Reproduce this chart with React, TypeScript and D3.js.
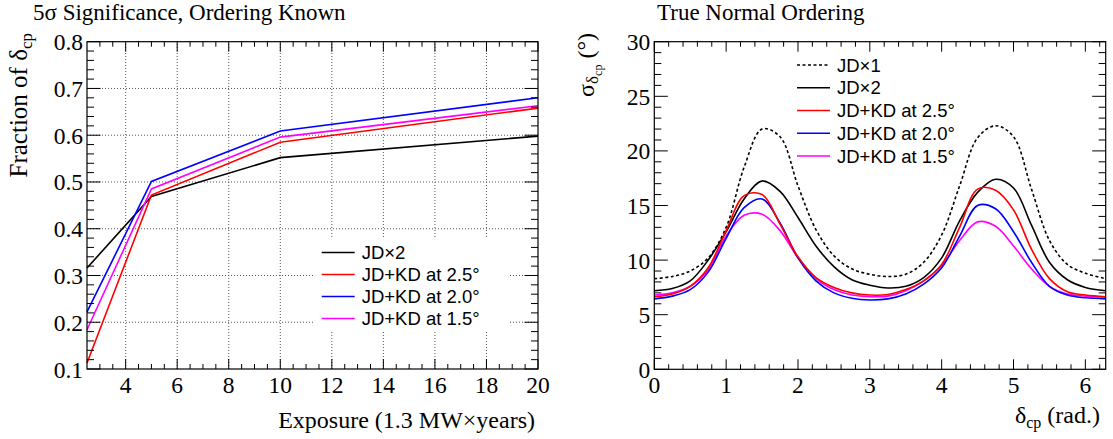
import React, { useRef, useEffect } from 'react';
import * as d3 from 'd3';

// left panel: fraction of delta_cp vs exposure
const exposure = [2.5, 5, 10, 20];
const fracJDx2 = [0.316, 0.469, 0.552, 0.598];
const fracKD25 = [0.113, 0.472, 0.585, 0.658];
const fracKD20 = [0.222, 0.501, 0.609, 0.68];
const fracKD15 = [0.184, 0.485, 0.596, 0.663];

// right panel: resolution vs delta_cp
const deltaCP = [0, 0.25, 0.5, 0.75, 1.0, 1.25, 1.5, 1.75, 2.0, 2.25, 2.5, 2.75, 3.0, 3.25, 3.5, 3.75, 4.0, 4.25, 4.5, 4.75, 5.0, 5.25, 5.5, 5.75, 6.0, 6.283];
const sigJDx1 = [8.3, 8.5, 9.0, 10.2, 13.0, 18.5, 22.0, 21.3, 16.8, 12.8, 10.4, 9.2, 8.7, 8.5, 8.7, 9.8, 12.3, 16.8, 21.2, 22.3, 21.3, 16.5, 11.8, 9.6, 8.8, 8.3];
const sigJDx2 = [7.2, 7.4, 8.1, 10.0, 12.6, 15.6, 17.25, 16.3, 13.9, 11.3, 9.4, 8.2, 7.7, 7.45, 7.6, 8.4, 10.2, 13.6, 16.2, 17.4, 16.6, 13.2, 9.8, 8.2, 7.5, 7.2];
const sigKD25 = [6.65, 6.9, 7.6, 9.3, 12.7, 15.9, 16.0, 13.3, 10.3, 8.4, 7.5, 7.0, 6.8, 6.85, 7.3, 8.1, 9.6, 13.0, 16.5, 16.4, 14.6, 11.0, 8.3, 7.1, 6.8, 6.65];
const sigKD20 = [6.45, 6.7, 7.3, 8.9, 12.0, 14.8, 15.6, 13.4, 10.2, 8.1, 7.0, 6.5, 6.35, 6.45, 6.9, 7.8, 9.3, 12.2, 15.0, 14.7, 12.6, 9.8, 7.6, 6.8, 6.55, 6.45];
const sigKD15 = [6.8, 7.0, 7.6, 9.1, 12.2, 14.1, 14.2, 12.7, 10.2, 8.3, 7.3, 6.8, 6.65, 6.7, 7.2, 8.1, 9.5, 11.8, 13.5, 13.1, 11.3, 9.2, 7.6, 6.9, 6.7, 6.6];

const leftXTicks = [4, 6, 8, 10, 12, 14, 16, 18, 20];
const leftYTicks = [0.1, 0.2, 0.3, 0.4, 0.5, 0.6, 0.7, 0.8];
const rightXTicks = [0, 1, 2, 3, 4, 5, 6];
const rightYTicks = [0, 5, 10, 15, 20, 25, 30];

const serif = "'Liberation Serif', 'DejaVu Serif', serif";
const sans = "'Liberation Sans', Arial, sans-serif";

type Sel = d3.Selection<SVGGElement, unknown, null, undefined>;

function drawFrame(g: Sel, x: d3.ScaleLinear<number, number>, y: d3.ScaleLinear<number, number>,
  xMajor: number[], xMinor: number[], yMajor: number[], yMinor: number[], fmtY: (v: number) => string) {
  const [x0, x1] = x.range();
  const [y0, y1] = y.range(); // y0 bottom, y1 top
  const t = g.append("g").attr("stroke", "#000").attr("stroke-width", 1);
  const xt = (v: number, len: number) => {
    t.append("line").attr("x1", x(v)).attr("x2", x(v)).attr("y1", y0).attr("y2", y0 - len);
    t.append("line").attr("x1", x(v)).attr("x2", x(v)).attr("y1", y1).attr("y2", y1 + len);
  };
  const yt = (v: number, len: number) => {
    t.append("line").attr("y1", y(v)).attr("y2", y(v)).attr("x1", x0).attr("x2", x0 + len);
    t.append("line").attr("y1", y(v)).attr("y2", y(v)).attr("x1", x1).attr("x2", x1 - len);
  };
  xMajor.forEach(v => xt(v, 10));
  xMinor.forEach(v => xt(v, 5));
  yMajor.forEach(v => yt(v, 13.5));
  yMinor.forEach(v => yt(v, 7));
  g.append("rect").attr("x", x0).attr("y", y1).attr("width", x1 - x0).attr("height", y0 - y1)
    .attr("fill", "none").attr("stroke", "#000").attr("stroke-width", 1.2);

  g.append("g").selectAll("text").data(xMajor).join("text")
    .attr("x", d => x(d)).attr("y", y0 + 24)
    .attr("text-anchor", "middle").attr("font-family", serif).attr("font-size", 23.5)
    .text(d => String(d));
  g.append("g").selectAll("text").data(yMajor).join("text")
    .attr("x", x0 - 4).attr("y", d => y(d) + 8.5)
    .attr("text-anchor", "end").attr("font-family", serif).attr("font-size", 23.5)
    .text(d => fmtY(d));
}

function minorTicks(lo: number, hi: number, step: number, major: number[]) {
  return d3.range(lo, hi + step / 2, step)
    .map(v => +v.toFixed(4))
    .filter(v => v <= hi && !major.some(m => Math.abs(m - v) < 1e-6));
}

function drawLegend(g: Sel, entries: { label: string; color: string; dash?: string }[],
  lx: number, ly: number, dy: number) {
  entries.forEach((e, i) => {
    const yy = ly + i * dy;
    g.append("line").attr("x1", lx).attr("x2", lx + 33).attr("y1", yy).attr("y2", yy)
      .attr("stroke", e.color).attr("stroke-width", 1.6)
      .attr("stroke-dasharray", e.dash || null);
    g.append("text").attr("x", lx + 40).attr("y", yy + 6.5)
      .attr("font-family", sans).attr("font-size", 18.5).attr("fill", "#000")
      .text(e.label);
  });
}

export default function App() {
  const svgRef = useRef<SVGSVGElement>(null);

  useEffect(() => {
    const svg = d3.select(svgRef.current);
    svg.selectAll("*").remove();

    // ---------- left panel ----------
    const xL = d3.scaleLinear().domain([2.5, 20]).range([87, 538]);
    const yL = d3.scaleLinear().domain([0.1, 0.8]).range([369, 41.7]);
    const gl = svg.append("g") as unknown as Sel;

    const grid = gl.append("g").attr("stroke", "#555").attr("stroke-width", 1).attr("stroke-dasharray", "1,2");
    leftXTicks.filter(v => v < 20).forEach(v => {
      grid.append("line").attr("x1", xL(v)).attr("x2", xL(v)).attr("y1", yL(0.1)).attr("y2", yL(0.8));
    });
    leftYTicks.filter(v => v > 0.1 && v < 0.8).forEach(v => {
      grid.append("line").attr("y1", yL(v)).attr("y2", yL(v)).attr("x1", xL(2.5)).attr("x2", xL(20));
    });

    const lineL = d3.line<number>().x((_, i) => xL(exposure[i])).y(d => yL(d));
    const leftSeries = [
      { v: fracJDx2, c: "#000000" },
      { v: fracKD25, c: "#ff0000" },
      { v: fracKD15, c: "#ff00ff" },
      { v: fracKD20, c: "#0000ff" },
    ];
    leftSeries.forEach(s => {
      gl.append("path").attr("d", lineL(s.v)).attr("fill", "none")
        .attr("stroke", s.c).attr("stroke-width", 1.6);
    });

    drawFrame(gl, xL, yL, leftXTicks, minorTicks(3, 20, 0.5, leftXTicks),
      leftYTicks, minorTicks(0.1, 0.8, 0.02, leftYTicks), d => d.toFixed(1));

    gl.append("rect").attr("x", 313).attr("y", 238).attr("width", 197).attr("height", 94).attr("fill", "#fff");
    drawLegend(gl, [
      { label: "JD×2", color: "#000000" },
      { label: "JD+KD at 2.5°", color: "#ff0000" },
      { label: "JD+KD at 2.0°", color: "#0000ff" },
      { label: "JD+KD at 1.5°", color: "#ff00ff" },
    ], 321.7, 252.5, 22);

    gl.append("text").attr("x", 33).attr("y", 20).attr("font-family", serif).attr("font-size", 23)
      .text("5σ Significance, Ordering Known");
    gl.append("text").attr("x", 535).attr("y", 428).attr("text-anchor", "end")
      .attr("font-family", serif).attr("font-size", 24).text("Exposure (1.3 MW×years)");
    const yl = gl.append("text").attr("transform", "translate(27,33) rotate(-90)").attr("text-anchor", "end")
      .attr("font-family", serif).attr("font-size", 25);
    yl.append("tspan").text("Fraction of δ");
    yl.append("tspan").attr("dy", 5).attr("font-size", 17).text("cp");

    // ---------- right panel ----------
    const xR = d3.scaleLinear().domain([0, 2 * Math.PI]).range([654.3, 1105.7]);
    const yR = d3.scaleLinear().domain([0, 30]).range([369.3, 41.7]);
    const gr = svg.append("g") as unknown as Sel;

    const lineR = d3.line<number>().x((_, i) => xR(deltaCP[i])).y(d => yR(d)).curve(d3.curveCatmullRom.alpha(0.5));
    const rightSeries = [
      { v: sigJDx1, c: "#000000", dash: "3,2.5" },
      { v: sigJDx2, c: "#000000" },
      { v: sigKD15, c: "#ff00ff" },
      { v: sigKD20, c: "#0000ff" },
      { v: sigKD25, c: "#ff0000" },
    ];
    rightSeries.forEach(s => {
      gr.append("path").attr("d", lineR(s.v)).attr("fill", "none")
        .attr("stroke", s.c).attr("stroke-width", 1.6)
        .attr("stroke-dasharray", s.dash || null);
    });

    drawFrame(gr, xR, yR, rightXTicks, minorTicks(0.2, 6.2, 0.2, rightXTicks),
      rightYTicks, minorTicks(1, 30, 1, rightYTicks), d => String(d));

    drawLegend(gr, [
      { label: "JD×1", color: "#000000", dash: "3,2.5" },
      { label: "JD×2", color: "#000000" },
      { label: "JD+KD at 2.5°", color: "#ff0000" },
      { label: "JD+KD at 2.0°", color: "#0000ff" },
      { label: "JD+KD at 1.5°", color: "#ff00ff" },
    ], 797, 65, 22.75);

    gr.append("text").attr("x", 657).attr("y", 20).attr("font-family", serif).attr("font-size", 23)
      .text("True Normal Ordering");
    const xr = gr.append("text").attr("x", 1100).attr("y", 423).attr("text-anchor", "end")
      .attr("font-family", serif).attr("font-size", 24);
    xr.append("tspan").text("δ");
    xr.append("tspan").attr("dy", 5).attr("font-size", 16).text("cp");
    xr.append("tspan").attr("dy", -5).text(" (rad.)");
    const yr = gr.append("text").attr("transform", "translate(594,33) rotate(-90)").attr("text-anchor", "end")
      .attr("font-family", serif).attr("font-size", 24);
    yr.append("tspan").text("σ");
    yr.append("tspan").attr("dy", 4).attr("font-size", 17).text("δ");
    yr.append("tspan").attr("dy", 4).attr("font-size", 12).text("cp");
    yr.append("tspan").attr("dy", -8).text("  (°)");
  }, []);

  return (
    <svg ref={svgRef} width={1113} height={439}
      style={{ position: "absolute", left: 0, top: 0, background: "white" }} />
  );
}
